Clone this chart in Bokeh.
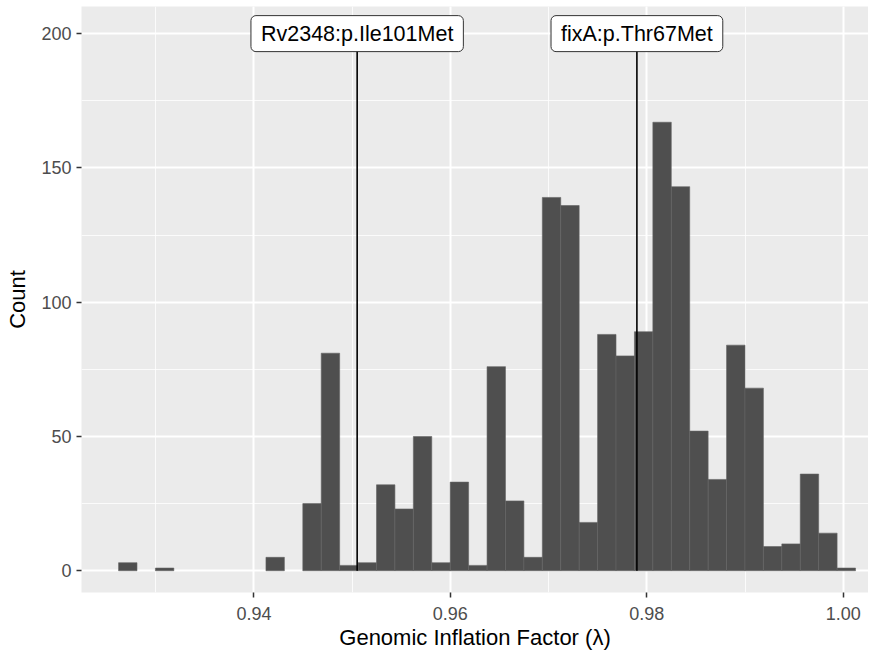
from bokeh.plotting import figure
from bokeh.models import ColumnDataSource, SingleIntervalTicker, PrintfTickFormatter, Range1d
from bokeh.core.properties import value
from bokeh.embed import file_html
from bokeh.resources import INLINE

# ---- data ----
bin_start = 0.92622
bin_width = 0.0018757
counts = [3, 0, 1, 0, 0, 0, 0, 0, 5, 0,
          25, 81, 2, 3, 32, 23, 50, 3, 33, 2,
          76, 26, 5, 139, 136, 18, 88, 80, 89, 167,
          143, 52, 34, 84, 68, 9, 10, 36, 14, 1]
variant_names = ["Rv2348:p.Ile101Met", "fixA:p.Thr67Met"]
variant_lambda = [0.95051, 0.97899]
label_y = [200, 200]

lefts = [bin_start + i * bin_width for i in range(len(counts))]
rights = [l + bin_width for l in lefts]
keep = [i for i, c in enumerate(counts) if c > 0]
hist_src = ColumnDataSource(dict(
    left=[lefts[i] for i in keep],
    right=[rights[i] for i in keep],
    top=[counts[i] for i in keep],
    bottom=[0] * len(keep),
))
lab_src = ColumnDataSource(dict(x=variant_lambda, y=label_y, name=variant_names,
                                y0=[0] * len(variant_lambda)))

FONT = "Liberation Sans"

p = figure(width=868, height=652, output_backend="svg", toolbar_location=None,
           x_range=Range1d(0.922446, 1.002569), y_range=Range1d(-8.1, 210.1),
           min_border_left=81, min_border_right=0, min_border_top=6, min_border_bottom=10)
p.background_fill_color = "#EBEBEB"
p.border_fill_color = "white"
p.outline_line_color = None

p.quad(left="left", right="right", top="top", bottom="bottom", source=hist_src,
       fill_color="#4F4F4F", line_color="#636363", line_width=0.6)

p.segment(x0="x", y0="y0", x1="x", y1="y", source=lab_src, line_color="black", line_width=1.6)

p.text(x="x", y="y", text="name", source=lab_src,
       text_font=value(FONT), text_font_size="21.5px", text_color="black",
       text_align="center", text_baseline="middle",
       background_fill_color="white", border_line_color="#333333", border_line_width=1,
       padding=dict(left=10, right=10, top=6, bottom=6), border_radius=5)

xt = SingleIntervalTicker(interval=0.02, num_minor_ticks=2)
yt = SingleIntervalTicker(interval=50, num_minor_ticks=2)
p.xaxis.ticker = xt
p.yaxis.ticker = yt
p.xgrid.ticker = xt
p.ygrid.ticker = yt
p.xaxis.formatter = PrintfTickFormatter(format="%.2f")

for g in (p.xgrid, p.ygrid):
    g.grid_line_color = "white"
    g.grid_line_width = 2
    g.minor_grid_line_color = "white"
    g.minor_grid_line_width = 1
    g.minor_grid_line_alpha = 0.8

for ax in (p.xaxis, p.yaxis):
    ax.axis_line_color = None
    ax.major_tick_line_color = "#333333"
    ax.major_tick_line_width = 1.5
    ax.major_tick_out = 5
    ax.major_tick_in = 0
    ax.minor_tick_line_color = None
    ax.major_label_text_font = FONT
    ax.major_label_text_font_size = "18px"
    ax.major_label_text_color = "#4D4D4D"
    ax.axis_label_text_font = FONT
    ax.axis_label_text_font_size = "22px"
    ax.axis_label_text_font_style = "normal"
    ax.axis_label_text_color = "black"

p.xaxis.axis_label = "Genomic Inflation Factor (λ)"
p.yaxis.axis_label = "Count"
p.xaxis.major_label_standoff = 9
p.yaxis.major_label_standoff = 5
p.xaxis.axis_label_standoff = 2
p.yaxis.axis_label_standoff = 8

open("out.html", "w").write(file_html(p, INLINE))
